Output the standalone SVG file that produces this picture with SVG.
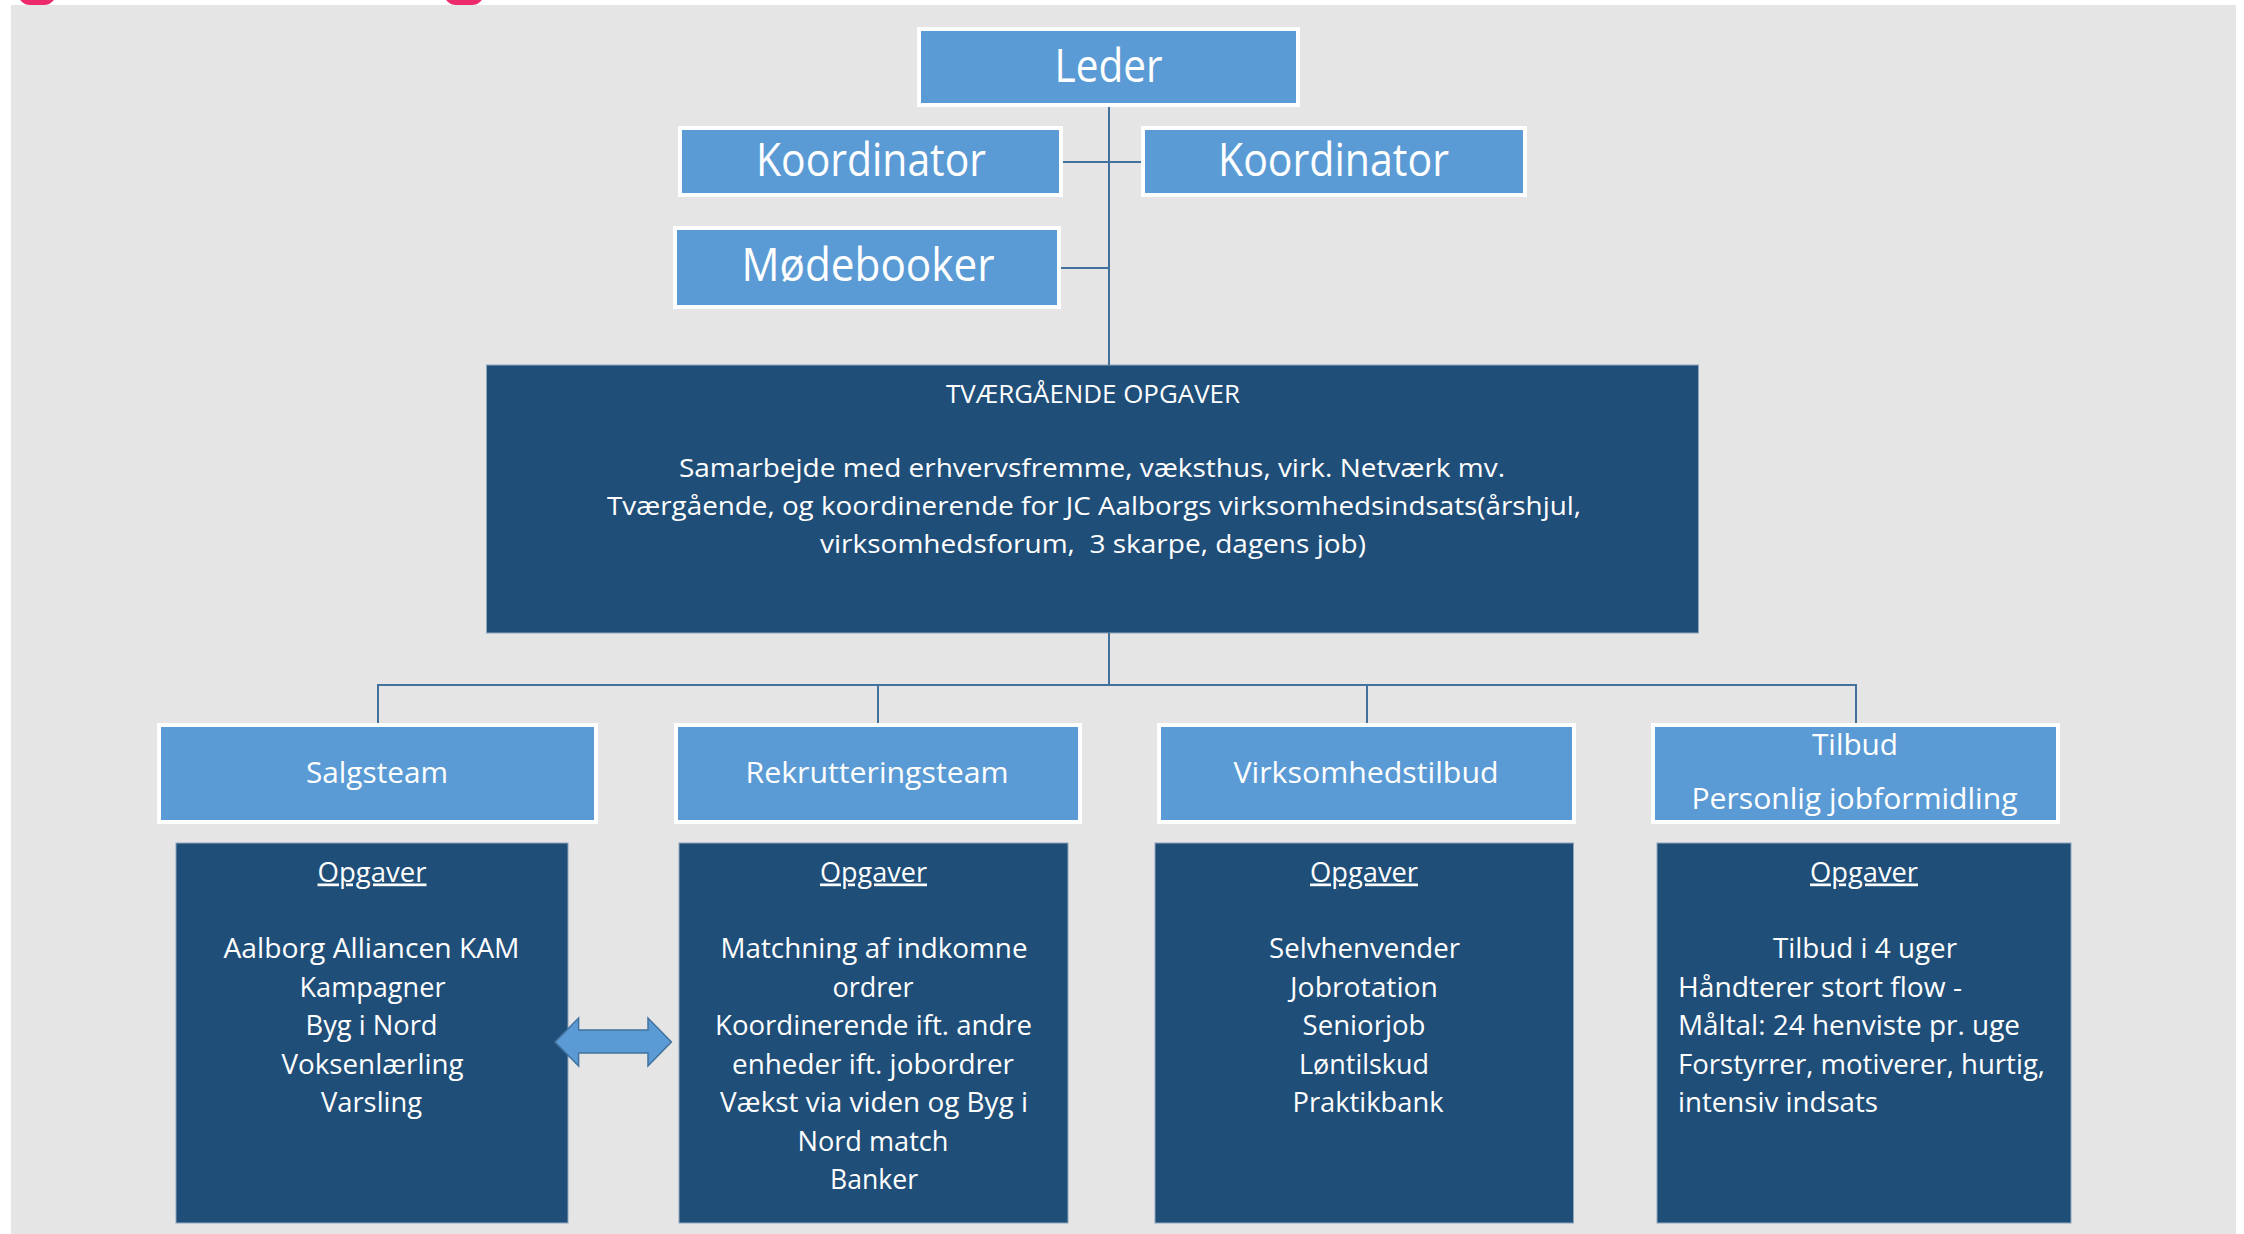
<svg xmlns="http://www.w3.org/2000/svg" width="2244" height="1234" viewBox="0 0 2244 1234">
<style>
.lb{fill:#5b9bd5;stroke:#ffffff;stroke-width:4}
.db{fill:#1f4e79;stroke:#8fa6bd;stroke-width:1}
.t{font-family:"Open Sans","Noto Sans","Liberation Sans",sans-serif;fill:#ffffff;text-anchor:middle}
.big{font-size:46px}
.mid{font-size:30px}
.tv{font-size:26px}
.sm{font-size:27px}
.conn{stroke:#41719c;stroke-width:2;fill:none}
</style>
<rect x="0" y="0" width="2244" height="1234" fill="#ffffff"/>
<rect x="11" y="5" width="2225" height="1229" fill="#e5e5e5"/>
<rect x="18" y="-20" width="38" height="25" rx="12" fill="#ed2a6b"/>
<rect x="444" y="-20" width="40" height="25" rx="12" fill="#ed2a6b"/>

<g id="leder">
<rect class="lb" x="919" y="29" width="379" height="76"/>
<text class="t big" x="1108.5" y="82" textLength="108" lengthAdjust="spacingAndGlyphs">Leder</text>
</g>
<g id="koordinator-1">
<rect class="lb" x="680" y="128" width="381" height="67"/>
<text class="t big" x="871" y="176" textLength="230" lengthAdjust="spacingAndGlyphs">Koordinator</text>
</g>
<g id="koordinator-2">
<rect class="lb" x="1143" y="128" width="382" height="67"/>
<text class="t big" x="1333.5" y="176" textLength="231" lengthAdjust="spacingAndGlyphs">Koordinator</text>
</g>
<g id="modebooker">
<rect class="lb" x="675" y="228" width="384" height="79"/>
<text class="t big" x="868" y="281" textLength="253" lengthAdjust="spacingAndGlyphs">Mødebooker</text>
</g>

<g id="tvaergaende">
<rect class="db" x="486.5" y="365" width="1212" height="268"/>
<text class="t tv" x="1093" y="403" textLength="294" lengthAdjust="spacingAndGlyphs">TVÆRGÅENDE OPGAVER</text>
<text class="t tv" x="1092" y="476.5" textLength="826" lengthAdjust="spacingAndGlyphs">Samarbejde med erhvervsfremme, væksthus, virk. Netværk mv.</text>
<text class="t tv" x="1094" y="514.5" textLength="974" lengthAdjust="spacingAndGlyphs">Tværgående, og koordinerende for JC Aalborgs virksomhedsindsats(årshjul,</text>
<text class="t tv" x="1093" y="552.5" textLength="546" lengthAdjust="spacingAndGlyphs" xml:space="preserve">virksomhedsforum,  3 skarpe, dagens job)</text>
</g>

<g id="salgsteam">
<rect class="lb" x="159" y="725" width="437" height="97"/>
<text class="t mid" x="377" y="783" textLength="142" lengthAdjust="spacingAndGlyphs">Salgsteam</text>
</g>
<g id="rekrutteringsteam">
<rect class="lb" x="676" y="725" width="404" height="97"/>
<text class="t mid" x="877" y="783" textLength="263" lengthAdjust="spacingAndGlyphs">Rekrutteringsteam</text>
</g>
<g id="virksomhedstilbud">
<rect class="lb" x="1159" y="725" width="415" height="97"/>
<text class="t mid" x="1366" y="783" textLength="265" lengthAdjust="spacingAndGlyphs">Virksomhedstilbud</text>
</g>
<g id="tilbud-personlig">
<rect class="lb" x="1653" y="725" width="405" height="97"/>
<text class="t mid" x="1855" y="755" textLength="86" lengthAdjust="spacingAndGlyphs">Tilbud</text>
<text class="t mid" x="1854.5" y="809" textLength="326" lengthAdjust="spacingAndGlyphs">Personlig jobformidling</text>
</g>

<g id="opgaver-salg">
<rect class="db" x="176" y="843" width="392" height="380"/>
<text class="t sm" x="372" y="881.5" text-decoration="underline" textLength="109" lengthAdjust="spacingAndGlyphs">Opgaver</text>
<text class="t sm" x="371.5" y="958" textLength="296" lengthAdjust="spacingAndGlyphs">Aalborg Alliancen KAM</text>
<text class="t sm" x="372.5" y="996.5" textLength="146" lengthAdjust="spacingAndGlyphs">Kampagner</text>
<text class="t sm" x="371.5" y="1035" textLength="132" lengthAdjust="spacingAndGlyphs">Byg i Nord</text>
<text class="t sm" x="372.5" y="1073.5" textLength="182" lengthAdjust="spacingAndGlyphs">Voksenlærling</text>
<text class="t sm" x="371.5" y="1112" textLength="101" lengthAdjust="spacingAndGlyphs">Varsling</text>
</g>

<g id="opgaver-rekruttering">
<rect class="db" x="679" y="843" width="389" height="380"/>
<text class="t sm" x="873.5" y="881.5" text-decoration="underline" textLength="107" lengthAdjust="spacingAndGlyphs">Opgaver</text>
<text class="t sm" x="874" y="958" textLength="307" lengthAdjust="spacingAndGlyphs">Matchning af indkomne</text>
<text class="t sm" x="873" y="996.5" textLength="81" lengthAdjust="spacingAndGlyphs">ordrer</text>
<text class="t sm" x="873.5" y="1035" textLength="317" lengthAdjust="spacingAndGlyphs">Koordinerende ift. andre</text>
<text class="t sm" x="873" y="1073.5" textLength="282" lengthAdjust="spacingAndGlyphs">enheder ift. jobordrer</text>
<text class="t sm" x="874" y="1112" textLength="308" lengthAdjust="spacingAndGlyphs">Vækst via viden og Byg i</text>
<text class="t sm" x="873" y="1150.5" textLength="151" lengthAdjust="spacingAndGlyphs">Nord match</text>
<text class="t sm" x="874" y="1189" textLength="88" lengthAdjust="spacingAndGlyphs">Banker</text>
</g>

<g id="opgaver-virksomhed">
<rect class="db" x="1155" y="843" width="418.5" height="380"/>
<text class="t sm" x="1364" y="881.5" text-decoration="underline" textLength="108" lengthAdjust="spacingAndGlyphs">Opgaver</text>
<text class="t sm" x="1364.5" y="958" textLength="191" lengthAdjust="spacingAndGlyphs">Selvhenvender</text>
<text class="t sm" x="1364" y="996.5" textLength="148" lengthAdjust="spacingAndGlyphs">Jobrotation</text>
<text class="t sm" x="1364" y="1035" textLength="123" lengthAdjust="spacingAndGlyphs">Seniorjob</text>
<text class="t sm" x="1364" y="1073.5" textLength="130" lengthAdjust="spacingAndGlyphs">Løntilskud</text>
<text class="t sm" x="1368" y="1112" textLength="151" lengthAdjust="spacingAndGlyphs">Praktikbank</text>
</g>

<g id="opgaver-tilbud">
<rect class="db" x="1657" y="843" width="414" height="380"/>
<text class="t sm" x="1864" y="881.5" text-decoration="underline" textLength="108" lengthAdjust="spacingAndGlyphs">Opgaver</text>
<text class="t sm" x="1865" y="958" textLength="184" lengthAdjust="spacingAndGlyphs">Tilbud i 4 uger</text>
<text class="t sm" x="1678" y="996.5" style="text-anchor:start" textLength="284" lengthAdjust="spacingAndGlyphs">Håndterer stort flow -</text>
<text class="t sm" x="1678" y="1035" style="text-anchor:start" textLength="342" lengthAdjust="spacingAndGlyphs">Måltal: 24 henviste pr. uge</text>
<text class="t sm" x="1678" y="1073.5" style="text-anchor:start" textLength="367" lengthAdjust="spacingAndGlyphs">Forstyrrer, motiverer, hurtig,</text>
<text class="t sm" x="1678" y="1112" style="text-anchor:start" textLength="200" lengthAdjust="spacingAndGlyphs">intensiv indsats</text>
</g>

<g id="connectors">
<line class="conn" x1="1109" y1="107" x2="1109" y2="365"/>
<line class="conn" x1="1063" y1="162" x2="1141" y2="162"/>
<line class="conn" x1="1061" y1="268" x2="1109" y2="268"/>
<line class="conn" x1="1109" y1="633" x2="1109" y2="685"/>
<line class="conn" x1="377" y1="685" x2="1857" y2="685"/>
<line class="conn" x1="378" y1="685" x2="378" y2="723"/>
<line class="conn" x1="878" y1="685" x2="878" y2="723"/>
<line class="conn" x1="1367" y1="685" x2="1367" y2="723"/>
<line class="conn" x1="1856" y1="685" x2="1856" y2="723"/>
<polygon id="double-arrow" points="555,1042 578.6,1018 578.6,1030 648,1030 648,1018 671.4,1042 648,1066 648,1053 578.6,1053 578.6,1066" fill="#5b9bd5" stroke="#41719c" stroke-width="1.5"/>
</g>
</svg>
